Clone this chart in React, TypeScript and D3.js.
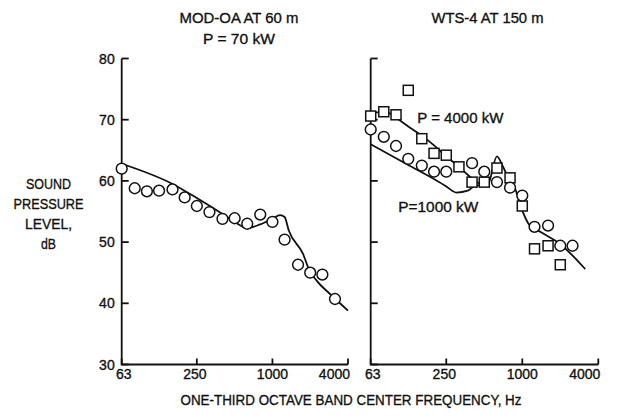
import React, { useEffect } from "react";
import * as d3 from "d3";

// ---------- data ----------
const modBands = [63, 80, 100, 125, 160, 200, 250, 315, 400, 500, 630, 800, 1000, 1250, 1600, 2000, 2500, 3150];
const modLevels = [62.0, 58.8, 58.3, 58.4, 58.6, 57.3, 55.9, 54.9, 53.8, 53.9, 53.0, 54.5, 53.3, 50.4, 46.3, 45.0, 44.7, 40.7];

const modCurveFreq = [63, 160, 250, 400, 500, 630, 800, 1000, 1150, 1250, 1350, 1750, 1950, 2250, 2850, 4000];
const modCurveLevel = [62.8, 59.5, 57.2, 54.6, 53.3, 52.3, 52.9, 53.8, 54.4, 54.1, 51.9, 48.1, 45.6, 43.7, 41.6, 38.8];

const wtsCircleFreq = [63, 80, 100, 125, 160, 200, 250, 400, 500, 630, 800, 1000, 1250, 1600, 2000, 2500];
const wtsCircleLevel = [68.4, 67.2, 65.7, 63.6, 62.5, 61.5, 61.5, 62.9, 61.5, 59.8, 58.9, 57.6, 52.5, 52.7, 49.4, 49.4];

const wtsSquareFreq = [63, 80, 100, 125, 160, 200, 250, 315, 400, 500, 630, 800, 1000, 1250, 1600, 2000];
const wtsSquareLevel = [70.6, 71.3, 70.8, 74.8, 66.9, 64.5, 64.2, 62.3, 59.8, 59.8, 62.1, 60.5, 55.9, 48.9, 49.4, 46.3];

const wts4000CurveFreq = [63, 85, 100, 125, 160, 200, 250, 315, 400, 480];
const wts4000CurveLevel = [71.2, 71.2, 70.3, 68.9, 67.4, 65.8, 64.0, 62.3, 60.4, 59.3];

const wts1000CurveFreq = [63, 125, 200, 250, 300, 370, 420, 480];
const wts1000CurveLevel = [66.0, 62.6, 60.3, 59.1, 58.1, 58.4, 59.2, 59.3];

const wtsSharedCurveFreq = [480, 530, 630, 700, 800, 870, 990, 1130, 1410, 1990, 3150];
const wtsSharedCurveLevel = [59.3, 59.3, 64.0, 62.4, 60.0, 58.9, 55.4, 52.9, 51.6, 49.7, 45.6];

const yTicks = [30, 40, 50, 60, 70, 80];
const xTicks = [63, 250, 1000, 4000];
const xTickLabels = ["63", "250", "1000", "4000"];
const yLabelLines = ["SOUND", "PRESSURE", "LEVEL,", "dB"];

// ---------- layout ----------
const W = 617;
const H = 417;
const Y_TOP = 58.5;
const Y_BOT = 364.5;
const LEFT_X: [number, number] = [121.7, 348];
const RIGHT_X: [number, number] = [370.7, 598.3];
const FONT = "'Liberation Sans', Arial, sans-serif";
const INK = "#111";
const TXT = { fontFamily: FONT, fill: INK, stroke: INK, strokeWidth: 0.35 } as const;

const yScale = d3.scaleLinear().domain([30, 80]).range([Y_BOT, Y_TOP]);

function zip(f: number[], v: number[]) {
  return f.map((x, i) => [x, v[i]] as [number, number]);
}

function Axes({ x, showYLabels }: { x: d3.ScaleLogarithmic<number, number>; showYLabels: boolean }) {
  const [x0, x1] = x.range();
  return (
    <g>
      <path d={`M${x0},${yScale(80)}V${Y_BOT}H${x1}`} fill="none" stroke={INK} strokeWidth={1.8} />
      {yTicks.map((t) => (
        <g key={t}>
          <line x1={x0} x2={x0 + 7} y1={yScale(t)} y2={yScale(t)} stroke={INK} strokeWidth={1.8} />
          {showYLabels && (
            <text x={x0 - 7} y={yScale(t)} dy="0.36em" textAnchor="end" fontSize={14} {...TXT}>
              {t}
            </text>
          )}
        </g>
      ))}
      {xTicks.map((t, i) => {
        const anchor = i === 3 ? "end" : "middle";
        const dx = i === 0 ? 2 : i === 1 ? -2 : i === 3 ? 2 : 0;
        return (
          <g key={t}>
            <line x1={x(t)} x2={x(t)} y1={Y_BOT} y2={Y_BOT - 6} stroke={INK} strokeWidth={1.8} />
            <text x={x(t) + dx} y={Y_BOT + 14} textAnchor={anchor} fontSize={14} {...TXT}>
              {xTickLabels[i]}
            </text>
          </g>
        );
      })}
    </g>
  );
}

export default function App() {
  useEffect(() => {
    document.body.style.margin = "0";
  }, []);

  const xL = d3.scaleLog().domain([63, 4000]).range(LEFT_X);
  const xR = d3.scaleLog().domain([63, 4000]).range(RIGHT_X);

  const lineL = d3
    .line<[number, number]>()
    .x((d) => xL(d[0]))
    .y((d) => yScale(d[1]))
    .curve(d3.curveMonotoneX);
  const lineR = d3
    .line<[number, number]>()
    .x((d) => xR(d[0]))
    .y((d) => yScale(d[1]))
    .curve(d3.curveMonotoneX);

  const sq = 10;

  return (
    <svg width={W} height={H} viewBox={`0 0 ${W} ${H}`} style={{ display: "block", background: "#fff" }}>
      <rect width={W} height={H} fill="#fff" />
      {/* titles */}
      <text x={239} y={23} textAnchor="middle" fontSize={15.5} {...TXT} textLength={119} lengthAdjust="spacingAndGlyphs">
        MOD-OA AT 60 m
      </text>
      <text x={239} y={44} textAnchor="middle" fontSize={15.5} {...TXT} textLength={72} lengthAdjust="spacingAndGlyphs">
        P = 70 kW
      </text>
      <text x={487.5} y={23} textAnchor="middle" fontSize={15.5} {...TXT} textLength={112} lengthAdjust="spacingAndGlyphs">
        WTS-4 AT 150 m
      </text>

      {/* y label */}
      {yLabelLines.map((s, i) => (
        <text key={s} x={48.5} y={189 + i * 20} textAnchor="middle" fontSize={15.5} {...TXT}
          textLength={[45, 70, 47, 15][i]} lengthAdjust="spacingAndGlyphs">
          {s}
        </text>
      ))}

      {/* x label */}
      <text x={351} y={405} textAnchor="middle" fontSize={15} {...TXT} textLength={341} lengthAdjust="spacingAndGlyphs">
        ONE-THIRD OCTAVE BAND CENTER FREQUENCY, Hz
      </text>

      <Axes x={xL} showYLabels={true} />
      <Axes x={xR} showYLabels={false} />

      {/* left panel */}
      <path d={lineL(zip(modCurveFreq, modCurveLevel)) || ""} fill="none" stroke={INK} strokeWidth={1.8} />
      {modBands.map((f, i) => (
        <circle key={f} cx={xL(f)} cy={yScale(modLevels[i])} r={5.4} fill="#fff" stroke={INK} strokeWidth={1.5} />
      ))}

      {/* right panel */}
      <path d={lineR(zip(wts4000CurveFreq, wts4000CurveLevel)) || ""} fill="none" stroke={INK} strokeWidth={1.8} />
      <path d={lineR(zip(wts1000CurveFreq, wts1000CurveLevel)) || ""} fill="none" stroke={INK} strokeWidth={1.8} />
      <path d={lineR(zip(wtsSharedCurveFreq, wtsSharedCurveLevel)) || ""} fill="none" stroke={INK} strokeWidth={1.8} />
      {wtsSquareFreq.map((f, i) => (
        <rect key={f} x={xR(f) - sq / 2} y={yScale(wtsSquareLevel[i]) - sq / 2} width={sq} height={sq} fill="#fff" stroke={INK} strokeWidth={1.5} />
      ))}
      {wtsCircleFreq.map((f, i) => (
        <circle key={f} cx={xR(f)} cy={yScale(wtsCircleLevel[i])} r={5.4} fill="#fff" stroke={INK} strokeWidth={1.5} />
      ))}

      <text x={417.3} y={123} fontSize={15} {...TXT} textLength={86} lengthAdjust="spacingAndGlyphs">
        P = 4000 kW
      </text>
      <text x={398.3} y={212} fontSize={15} {...TXT} textLength={80} lengthAdjust="spacingAndGlyphs">
        P=1000 kW
      </text>
    </svg>
  );
}
